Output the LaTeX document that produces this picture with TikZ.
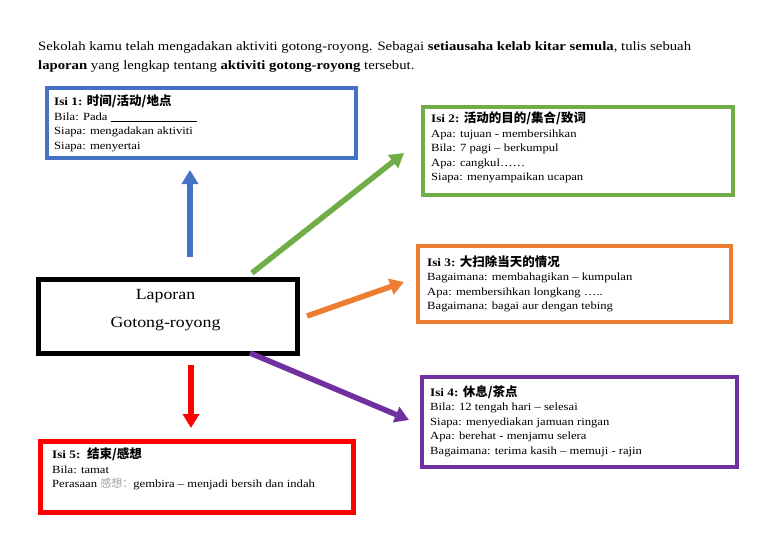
\documentclass[tikz,border=0pt]{standalone}
\usepackage{fontspec}
\setmainfont{Liberation Serif}[FakeStretch=1.15]
\newfontfamily\cjk{Noto Sans CJK SC}
\usetikzlibrary{arrows.meta}
\definecolor{cblue}{HTML}{4472C4}
\definecolor{cgreen}{HTML}{70AD47}
\definecolor{corange}{HTML}{ED7D31}
\definecolor{cpurple}{HTML}{7030A0}
\definecolor{cred}{HTML}{FF0000}
\definecolor{cgray}{HTML}{A0A0A0}
\newcommand{\hdcjk}[1]{{\cjk\fontsize{12.5}{14.5}\selectfont\bfseries #1}}
\newcommand{\hdlab}[1]{{\fontsize{11.5}{14.5}\selectfont\bfseries #1}}
\begin{document}
\begin{tikzpicture}[x=1pt,y=-1pt,
  box/.style={draw=#1, line width=4pt, inner sep=0pt, anchor=north west, fill=white},
  txt/.style={anchor=north west, inner sep=0pt, align=left, font=\fontsize{11}{14.5}\selectfont},
  arr/.style={draw=#1, line width=5.5pt, -{Triangle[width=16pt,length=14pt]}},
  title/.style={anchor=base west, inner sep=0pt, font=\fontsize{12.8}{19}\selectfont}]
\useasboundingbox[fill=white] (0,0) rectangle (768,543);

% title
\node[title] (ti1) at (38,51) {Sekolah kamu telah mengadakan aktiviti gotong-royong. Sebagai \textbf{setiausaha kelab kitar semula}, tulis sebuah};
\node[title] (ti2) at (38,70) {\textbf{laporan} yang lengkap tentang \textbf{aktiviti gotong-royong} tersebut.};

% boxes
\node[box=cblue, minimum width=309pt, minimum height=70pt] (b1) at (45,86) {};
\node[box=cgreen, minimum width=310pt, minimum height=88pt] (b2) at (421,105) {};
\node[box=corange, minimum width=313pt, minimum height=76pt] (b3) at (416,244) {};
\node[box=cpurple, minimum width=315pt, minimum height=90pt] (b4) at (420,375) {};
\node[box=cred, line width=5pt, minimum width=313pt, minimum height=71pt] (b5) at (38,439) {};
\node[box=black, line width=5pt, minimum width=259pt, minimum height=74pt] (c) at (36,277) {};

% texts
\node[txt] (t1) at (54,95) {\hdlab{Isi 1: }\hdcjk{时间/活动/地点}\\
Bila: Pada \rule[-1pt]{86pt}{0.6pt}\\
Siapa: mengadakan aktiviti\\
Siapa: menyertai};

\node[txt] (t2) at (431,112) {\hdlab{Isi 2: }\hdcjk{活动的目的/集合/致词}\\
Apa: tujuan - membersihkan\\
Bila: 7 pagi – berkumpul\\
Apa: cangkul……\\
Siapa: menyampaikan ucapan};

\node[txt] (t3) at (427,255) {\hdlab{Isi 3: }\hdcjk{大扫除当天的情况}\\
Bagaimana: membahagikan – kumpulan\\
Apa: membersihkan longkang …..\\
Bagaimana: bagai aur dengan tebing};

\node[txt] (t4) at (430,385) {\hdlab{Isi 4: }\hdcjk{休息/茶点}\\
Bila: 12 tengah hari – selesai\\
Siapa: menyediakan jamuan ringan\\
Apa: berehat - menjamu selera\\
Bagaimana: terima kasih – memuji - rajin};

\node[txt] (t5) at (52,448) {\hdlab{Isi 5:\ \ }\hdcjk{结束/感想}\\
Bila: tamat\\
Perasaan {\cjk\color{cgray}感想：}gembira – menjadi bersih dan indah};

\node[align=center, inner sep=0pt, font=\fontsize{15.5}{28}\selectfont] (ct) at (165.5,310) {Laporan\\Gotong-royong};

% arrow end points
\coordinate (a1s) at (190,257); \coordinate (a1e) at (190,170);
\coordinate (a2s) at (252,273); \coordinate (a2e) at (404,153);
\coordinate (a3s) at (307,316); \coordinate (a3e) at (404,282);
\coordinate (a4s) at (250,353); \coordinate (a4e) at (409,420);
\coordinate (a5s) at (191,365); \coordinate (a5e) at (191,428);

\draw[arr=cblue] (a1s) -- (a1e);
\draw[arr=cgreen] (a2s) -- (a2e);
\draw[arr=corange] (a3s) -- (a3e);
\draw[arr=cpurple] (a4s) -- (a4e);
\draw[arr=cred] (a5s) -- (a5e);
\end{tikzpicture}
\end{document}
